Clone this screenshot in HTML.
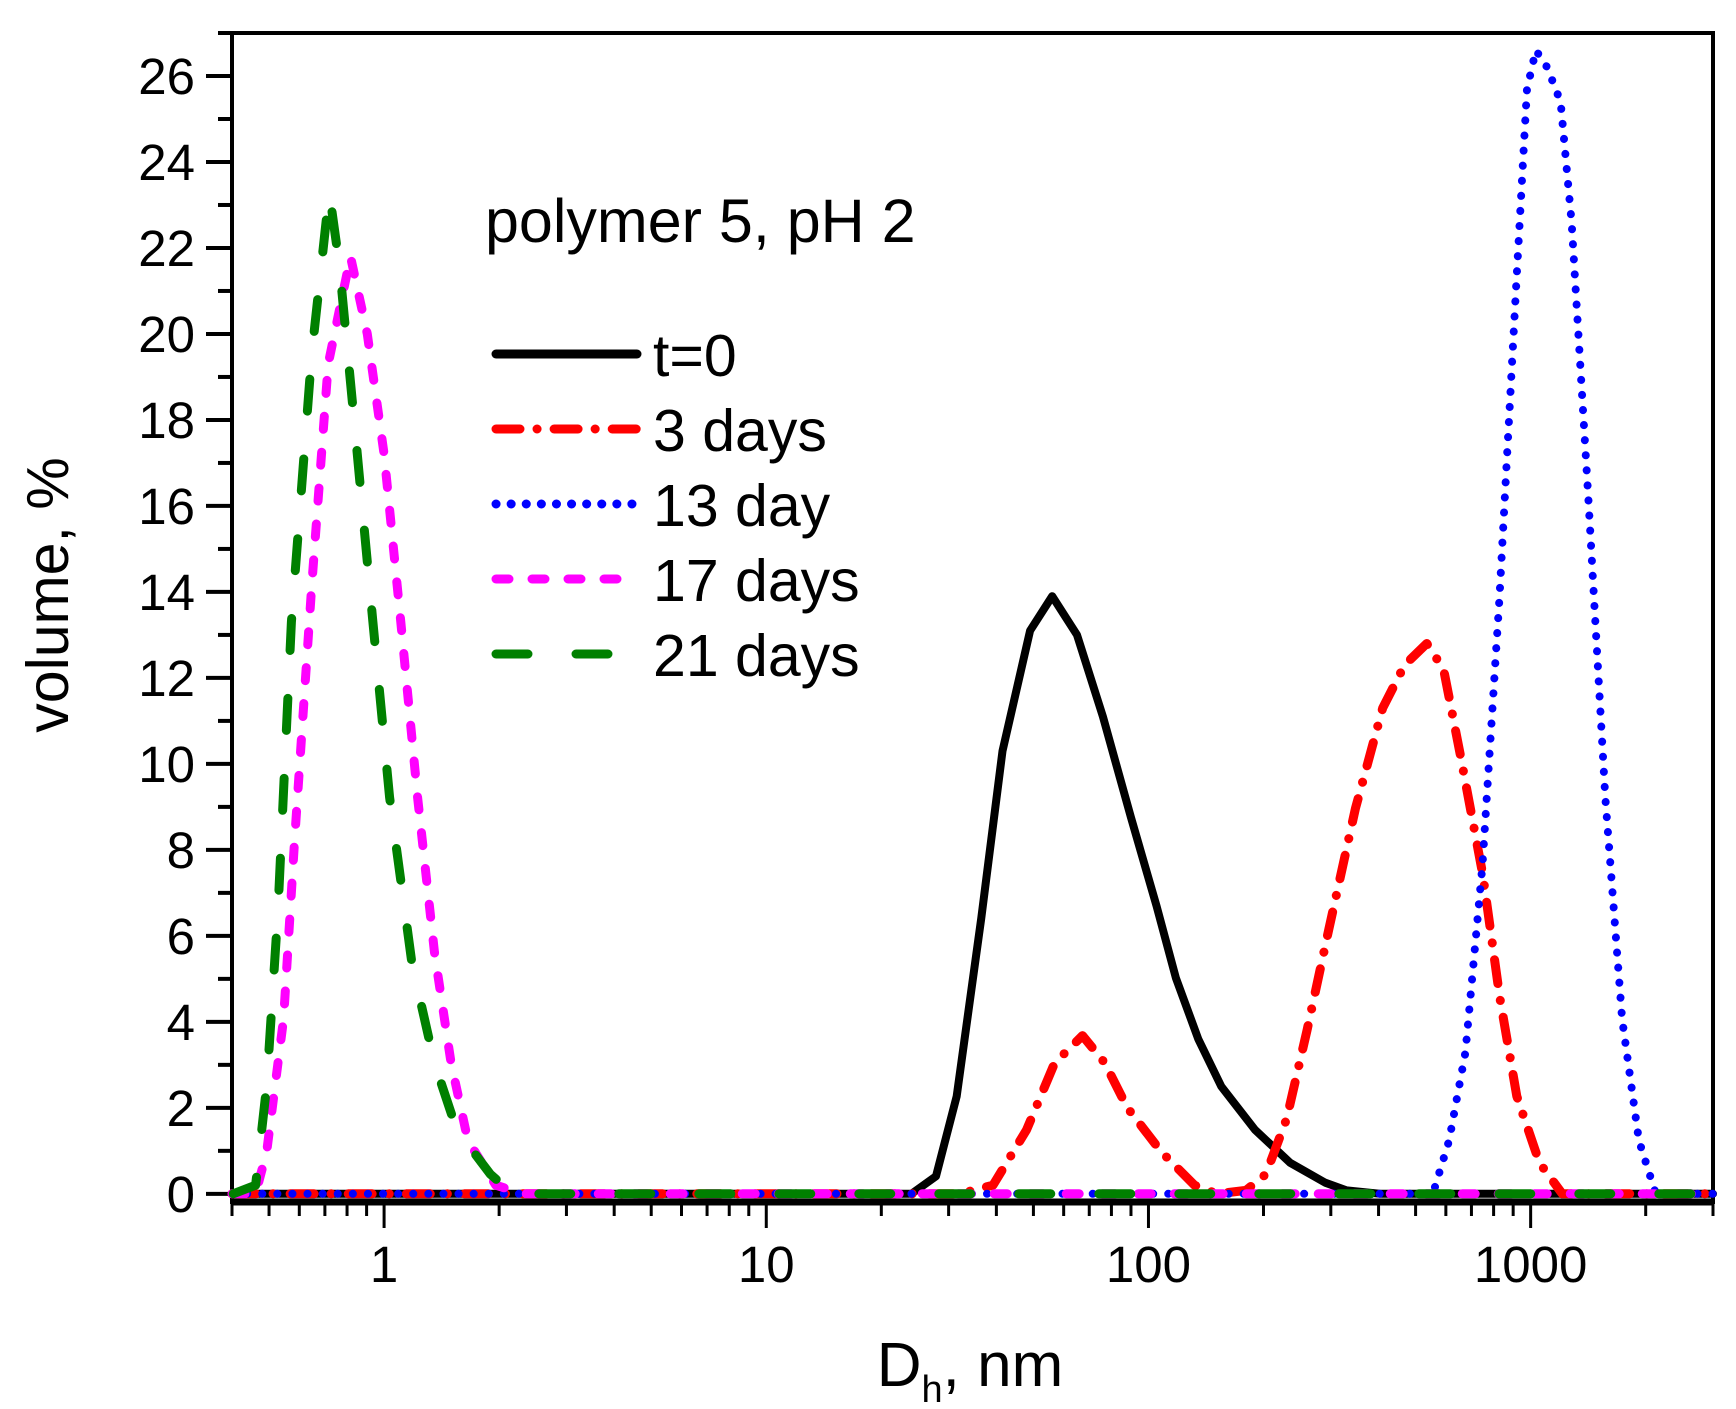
<!DOCTYPE html>
<html><head><meta charset="utf-8"><style>
html,body{margin:0;padding:0;background:#fff;}
svg{display:block;font-family:"Liberation Sans",sans-serif;}
</style></head><body>
<svg id="chart" width="1736" height="1409" viewBox="0 0 1736 1409" xmlns="http://www.w3.org/2000/svg">
<g id="axes"></g>
<g id="series"></g>
<text x="485" y="242" font-size="61">polymer 5, pH 2</text>
<g id="legend"></g>
<text transform="translate(68,595) rotate(-90)" text-anchor="middle" font-size="59">volume, %</text>
<text x="970" y="1386" text-anchor="middle" font-size="62">D<tspan font-size="38" dy="16">h</tspan><tspan dy="-16">, nm</tspan></text>
</svg>
<script>
const t0X=[0.4,24.0,27.8,31.5,36.5,41.5,49.0,56.0,65.0,76.0,90.0,105,118,135,155,190,235,290,330,405,3000];
const t0Y=[0,0,0.41,2.27,6.4,10.3,13.1,13.9,13.0,11.1,8.75,6.69,5.02,3.6,2.5,1.49,0.72,0.26,0.08,0,0];
const d3X=[0.4,32.1,39.2,48.0,56.8,67.2,76.9,87.9,108,132,151,180,203,230,260,296,348,410,468,535,592,655,750,830,920,1055,1210,3000];
const d3Y=[0,0,0.2,1.49,3.04,3.68,3.04,2.01,0.98,0.2,0,0.08,0.46,1.75,3.81,6.13,8.96,11.3,12.3,12.8,12.2,10.2,7.41,4.58,2.27,0.72,0,0];
const d13X=[0.4,555,612,675,748,828,915,978,1032,1105,1198,1280,1415,1568,1735,1920,2125,3000];
const d13Y=[0,0,1.24,3.29,7.66,13.8,21.0,25.7,26.6,26.2,25.4,22.6,16.2,9.22,4.07,1.24,0,0];
const d17X=[0.4,0.461,0.493,0.546,0.583,0.646,0.714,0.817,0.904,1,1.106,1.224,1.355,1.497,1.657,1.96,2.32,3000];
const d17Y=[0,0,0.98,4.07,8.19,14.1,19.3,21.8,20.0,17.2,13.3,9.22,5.61,3.04,1.24,0.2,0,0];
const d21X=[0.403,0.461,0.493,0.528,0.572,0.646,0.719,0.764,0.845,0.935,1.034,1.183,1.355,1.549,1.896,2.17,3000];
const d21Y=[0,0.2,2.52,6.64,13.3,19.5,23.3,21.6,17.5,13.3,9.22,5.35,3.04,1.49,0.46,0,0];
const yTicks=[0,2,4,6,8,10,12,14,16,18,20,22,24,26];
const xTickLabels=["1","10","100","1000"];
const legendLabels=["t=0","3 days","13 day","17 days","21 days"];

const NS="http://www.w3.org/2000/svg";
const L=232,R=1713,T=33,B=1202;
const xmin=0.4,xmax=3000,ymin=-0.19,ymax=27;
function sx(v){return L+(Math.log10(v)-Math.log10(xmin))/(Math.log10(xmax)-Math.log10(xmin))*(R-L);}
function sy(v){return B-(v-ymin)/(ymax-ymin)*(B-T);}
function mk(tag,attrs,parent){const e=document.createElementNS(NS,tag);for(const k in attrs)e.setAttribute(k,attrs[k]);parent.appendChild(e);return e;}
const axes=document.getElementById('axes');
let fr=mk('rect',{x:L,y:T,width:R-L,height:B-T,fill:'none',stroke:'#000','stroke-width':4},axes);


mk('line',{x1:L,y1:B,x2:R,y2:B,stroke:'#000','stroke-width':7},axes);
for(let v=0;v<=27;v++){
  const major=v%2===0;
  const tk=mk('line',{x1:major?206:218,x2:L,y1:sy(v),y2:sy(v),stroke:'#000','stroke-width':4},axes);
  
  
}
yTicks.forEach(v=>{
  const t=mk('text',{x:195,y:sy(v)+18,'text-anchor':'end','font-size':51},axes);
  t.textContent=String(v);
  
  
});
for(let d=-1;d<=3;d++){
  for(let m=1;m<=9;m++){
    const v=m*Math.pow(10,d);
    if(v<xmin||v>xmax)continue;
    const tk=mk('line',{x1:sx(v),x2:sx(v),y1:B,y2:m===1?1228:1216,stroke:'#000','stroke-width':3},axes);
    
    
  }
}
xTickLabels.forEach(s=>{
  const t=mk('text',{x:sx(parseFloat(s)),y:1282,'text-anchor':'middle','font-size':51},axes);
  t.textContent=s;
  
  
});
const styles=[
 {X:t0X,Y:t0Y,c:'#000',w:8,d:''},
 {X:d3X,Y:d3Y,c:'#ff0000',w:9,d:'24 17 0.1 17'},
 {X:d13X,Y:d13Y,c:'#0000ff',w:8,d:'0.1 15'},
 {X:d17X,Y:d17Y,c:'#ff00ff',w:9,d:'13 23'},
 {X:d21X,Y:d21Y,c:'#008000',w:9,d:'32 48'}
];
const names=['series-t0','series-3-days','series-13-day','series-17-days','series-21-days'];
const sg=document.getElementById('series');
styles.forEach((s,i)=>{
  const pts=s.X.map((x,j)=>sx(x).toFixed(1)+','+sy(s.Y[j]).toFixed(1)).join(' ');
  const p=mk('polyline',{points:pts,fill:'none',stroke:s.c,'stroke-width':s.w,'stroke-linecap':'round','stroke-linejoin':'round'},sg);
  if(s.d)p.setAttribute('stroke-dasharray',s.d);
  
  
});
const lg=document.getElementById('legend');
legendLabels.forEach((lab,i)=>{
  const y=354+i*75;
  const s=styles[i];
  const ln=mk('line',{x1:496,x2:637,y1:y,y2:y,stroke:s.c,'stroke-width':9,'stroke-linecap':'round'},lg);
  if(s.d)ln.setAttribute('stroke-dasharray',s.d);
  
  
  const t=mk('text',{x:653,y:y+22,'font-size':59},lg);
  t.textContent=lab;
  
  
});
</script>
</body></html>
